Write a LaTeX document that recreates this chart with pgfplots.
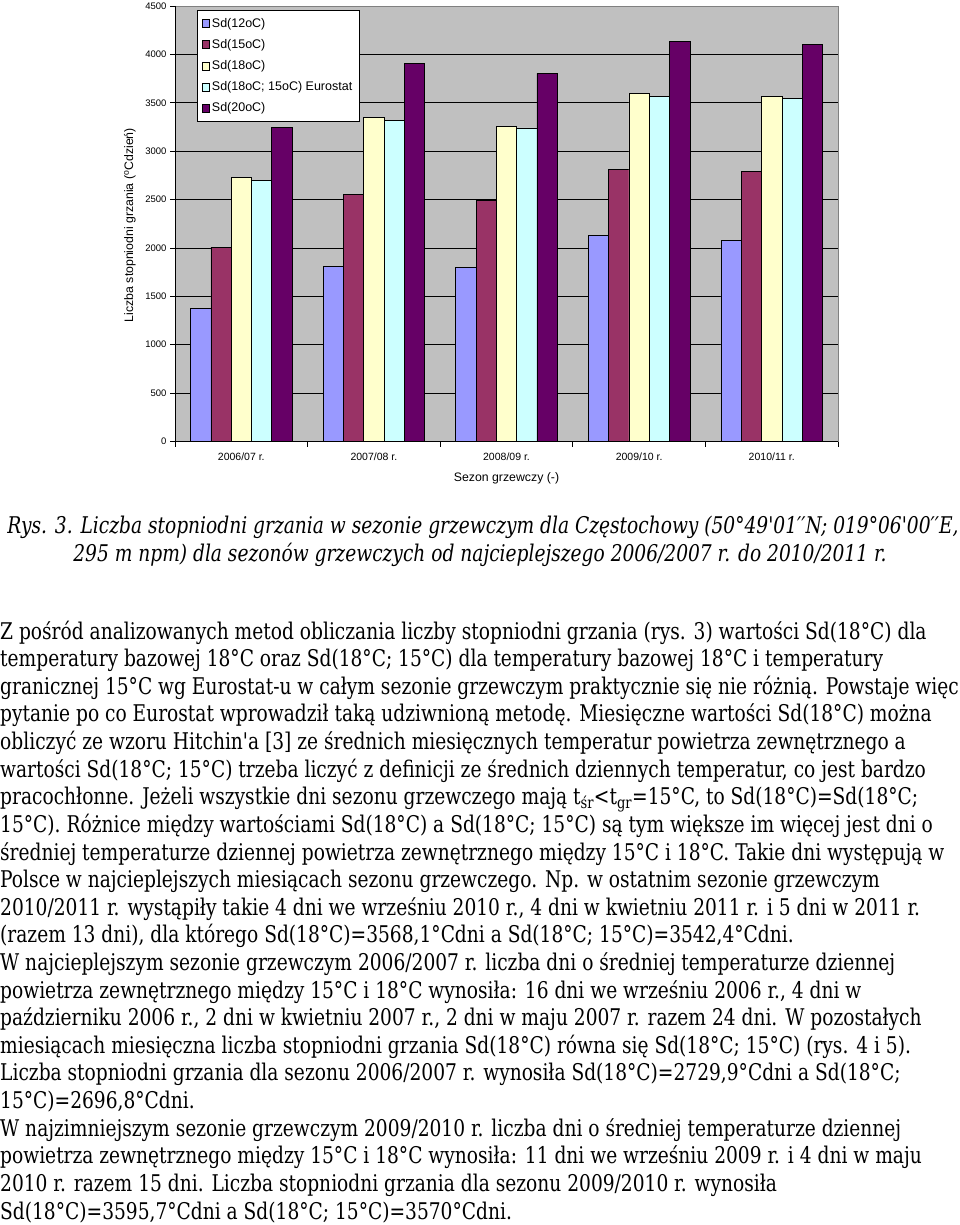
\documentclass[border=0pt]{standalone}
\usepackage{fontspec}
\usepackage{pgfplots}
\pgfplotsset{compat=1.18}
\newfontfamily\arial{Liberation Sans}
\newfontfamily\bodyfont[FakeStretch=0.9]{DejaVu Serif Condensed}
\definecolor{plotgray}{HTML}{C0C0C0}
\definecolor{cA}{HTML}{9999FF}
\definecolor{cB}{HTML}{993366}
\definecolor{cC}{HTML}{FFFFCC}
\definecolor{cD}{HTML}{CCFFFF}
\definecolor{cE}{HTML}{660066}
\newcommand\BL[2]{\node[anchor=base west, inner sep=0pt] at (0,-#1) {\bodyfont\fontsize{23}{27}\selectfont #2};}
\begin{document}
\begin{tikzpicture}[x=1pt,y=1pt]
\path[use as bounding box] (0,0) rectangle (960,-1225);
\begin{axis}[
  at={(175pt,-441.5pt)}, anchor=south west,
  scale only axis, width=663pt, height=435.5pt,
  xmin=-0.5, xmax=4.5, ymin=0, ymax=4500,
  ybar=0pt, bar width=20.3pt,
  axis background/.style={fill=plotgray},
  axis line style={draw=gray, line width=0.8pt},
  tick align=outside, tick pos=left,
  major tick length=5pt,
  every tick/.style={black, line width=0.8pt},
  xtick={-0.5,0.5,1.5,2.5,3.5,4.5}, xticklabels={},
  extra x ticks={0,1,2,3,4},
  extra x tick labels={2006/07 r.,2007/08 r.,2008/09 r.,2009/10 r.,2010/11 r.},
  extra x tick style={major tick length=0pt, grid=none},
  ytick={0,500,...,4000},
  extra y ticks={4500},
  extra y tick style={grid=none},
  ymajorgrids, major grid style={black, line width=0.8pt},
  /pgf/number format/assume math mode=true,
  /pgf/number format/1000 sep={},
  yticklabel style={font=\arial\fontsize{9.5}{11}\selectfont},
  xticklabel style={font=\arial\fontsize{10.5}{12}\selectfont, yshift=-8pt},
  xlabel={Sezon grzewczy (-)},
  ylabel={Liczba stopniodni grzania (\textsuperscript{o}Cdzień)},
  label style={font=\arial\fontsize{12.3}{14}\selectfont},
  xlabel style={at={(axis description cs:0.5,-0.0838)}, anchor=center},
  ylabel style={at={(axis description cs:-0.0679,0.497)}, anchor=center},
  legend style={at={(rel axis cs:0.0332,0.9908)}, anchor=north west, draw=black, line width=0.8pt, fill=white,
    font=\arial\fontsize{12.5}{14}\selectfont, row sep=6.5pt, inner xsep=5pt, inner ysep=6pt},
  legend cell align=left,
  legend image code/.code={\draw[#1, line width=0.5pt, draw=black] (0pt,-4pt) rectangle (7pt,4pt);},
]
\addplot[fill=cA, draw=black, line width=0.7pt] coordinates {(0,1375) (1,1806) (2,1796) (3,2126) (4,2078)};
\addplot[fill=cB, draw=black, line width=0.7pt] coordinates {(0,2008) (1,2554) (2,2495) (3,2812) (4,2787)};
\addplot[fill=cC, draw=black, line width=0.7pt] coordinates {(0,2730) (1,3349) (2,3256) (3,3596) (4,3568)};
\addplot[fill=cD, draw=black, line width=0.7pt] coordinates {(0,2697) (1,3321) (2,3240) (3,3570) (4,3542)};
\addplot[fill=cE, draw=black, line width=0.7pt] coordinates {(0,3246) (1,3903) (2,3804) (3,4130) (4,4103)};
\legend{Sd(12oC),Sd(15oC),Sd(18oC),Sd(18oC; 15oC) Eurostat,Sd(20oC)}
\draw[black, line width=0.8pt] (rel axis cs:0,1) -- (rel axis cs:0,0) -- (rel axis cs:1,0);
\end{axis}
\node[anchor=base, inner sep=0pt] at (483,-533) {\bodyfont\itshape\fontsize{23}{27}\selectfont Rys. 3. Liczba stopniodni grzania w sezonie grzewczym dla Częstochowy (50°49'01′′N; 019°06'00′′E,};
\node[anchor=base, inner sep=0pt] at (480,-561) {\bodyfont\itshape\fontsize{23}{27}\selectfont 295 m npm) dla sezonów grzewczych od najcieplejszego 2006/2007 r. do 2010/2011 r.};
\BL{639}{Z pośród analizowanych metod obliczania liczby stopniodni grzania (rys. 3) wartości Sd(18°C) dla}
\BL{666.6}{temperatury bazowej 18°C oraz Sd(18°C; 15°C) dla temperatury bazowej 18°C i temperatury}
\BL{694.2}{granicznej 15°C wg Eurostat-u w całym sezonie grzewczym praktycznie się nie różnią. Powstaje więc}
\BL{721.9}{pytanie po co Eurostat wprowadził taką udziwnioną metodę. Miesięczne wartości Sd(18°C) można}
\BL{749.5}{obliczyć ze wzoru Hitchin'a [3] ze średnich miesięcznych temperatur powietrza zewnętrznego a}
\BL{777.1}{wartości Sd(18°C; 15°C) trzeba liczyć z definicji ze średnich dziennych temperatur, co jest bardzo}
\BL{804.7}{pracochłonne. Jeżeli wszystkie dni sezonu grzewczego mają t\textsubscript{śr}<t\textsubscript{gr}=15°C, to Sd(18°C)=Sd(18°C;}
\BL{832.3}{15°C). Różnice między wartościami Sd(18°C) a Sd(18°C; 15°C) są tym większe im więcej jest dni o}
\BL{860}{średniej temperaturze dziennej powietrza zewnętrznego między 15°C i 18°C. Takie dni występują w}
\BL{887.6}{Polsce w najcieplejszych miesiącach sezonu grzewczego. Np. w ostatnim sezonie grzewczym}
\BL{915.2}{2010/2011 r. wystąpiły takie 4 dni we wrześniu 2010 r., 4 dni w kwietniu 2011 r. i 5 dni w 2011 r.}
\BL{942.8}{(razem 13 dni), dla którego Sd(18°C)=3568,1°Cdni a Sd(18°C; 15°C)=3542,4°Cdni.}
\BL{970.4}{W najcieplejszym sezonie grzewczym 2006/2007 r. liczba dni o średniej temperaturze dziennej}
\BL{998.1}{powietrza zewnętrznego między 15°C i 18°C wynosiła: 16 dni we wrześniu 2006 r., 4 dni w}
\BL{1025.7}{październiku 2006 r., 2 dni w kwietniu 2007 r., 2 dni w maju 2007 r. razem 24 dni. W pozostałych}
\BL{1053.3}{miesiącach miesięczna liczba stopniodni grzania Sd(18°C) równa się Sd(18°C; 15°C) (rys. 4 i 5).}
\BL{1080.9}{Liczba stopniodni grzania dla sezonu 2006/2007 r. wynosiła Sd(18°C)=2729,9°Cdni a Sd(18°C;}
\BL{1108.5}{15°C)=2696,8°Cdni.}
\BL{1136.2}{W najzimniejszym sezonie grzewczym 2009/2010 r. liczba dni o średniej temperaturze dziennej}
\BL{1163.8}{powietrza zewnętrznego między 15°C i 18°C wynosiła: 11 dni we wrześniu 2009 r. i 4 dni w maju}
\BL{1191.4}{2010 r. razem 15 dni. Liczba stopniodni grzania dla sezonu 2009/2010 r. wynosiła}
\BL{1219}{Sd(18°C)=3595,7°Cdni a Sd(18°C; 15°C)=3570°Cdni.}
\end{tikzpicture}
\end{document}
